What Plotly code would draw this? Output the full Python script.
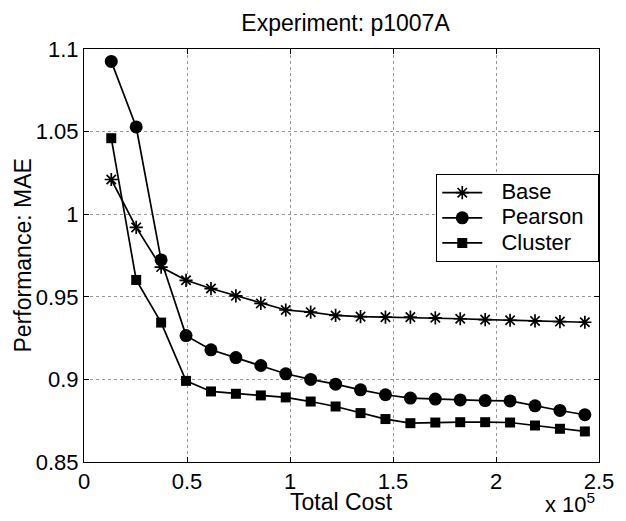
import plotly.graph_objects as go

# Data (x in raw cost units; axis shown in units of 1e5)
total_cost = [13240, 25340, 37440, 49540, 61640, 73740, 85840, 97940, 110040, 122140,
              134240, 146340, 158440, 170540, 182640, 194740, 206840, 218940, 231040, 243140]
base = [1.021, 0.992, 0.968, 0.960, 0.955, 0.9506, 0.946, 0.942, 0.9407, 0.9387,
        0.938, 0.9377, 0.9377, 0.9373, 0.9367, 0.9362, 0.9358, 0.9354, 0.935, 0.9346]
pearson = [1.0925, 1.0528, 0.9723, 0.9265, 0.9179, 0.9132, 0.9084, 0.9034, 0.900, 0.8971,
           0.8937, 0.8907, 0.8887, 0.8881, 0.8876, 0.8872, 0.887, 0.884, 0.8812, 0.8786]
cluster = [1.046, 0.9602, 0.9344, 0.8991, 0.8927, 0.8913, 0.8903, 0.8891, 0.8866, 0.8836,
           0.8796, 0.876, 0.8735, 0.8739, 0.8741, 0.8741, 0.8739, 0.8721, 0.8701, 0.8685]
series_names = ["Base", "Pearson", "Cluster"]

x_tickvals = [0, 50000, 100000, 150000, 200000, 250000]
x_ticktext = ["0", "0.5", "1", "1.5", "2", "2.5"]
y_tickvals = [0.85, 0.9, 0.95, 1.0, 1.05, 1.1]
y_ticktext = ["0.85", "0.9", "0.95", "1", "1.05", "1.1"]

FONT = "Liberation Sans, Arial, sans-serif"
NB = "\u00a0"


def legend_label(name):
    return NB * 3 + "<span style='font-size:22px'>" + name + "</span>" + NB * 2


fig = go.Figure()
fig.add_trace(go.Scatter(x=total_cost, y=base, name=legend_label(series_names[0]),
                         mode="lines+markers",
                         line=dict(color="black", width=1.7),
                         marker=dict(symbol="asterisk-open", size=11, color="black",
                                     line=dict(color="black", width=1.7))))
fig.add_trace(go.Scatter(x=total_cost, y=pearson, name=legend_label(series_names[1]),
                         mode="lines+markers",
                         line=dict(color="black", width=1.7),
                         marker=dict(symbol="circle", size=13, color="black")))
fig.add_trace(go.Scatter(x=total_cost, y=cluster, name=legend_label(series_names[2]),
                         mode="lines+markers",
                         line=dict(color="black", width=1.7),
                         marker=dict(symbol="square", size=10, color="black")))

axis_common = dict(showline=True, linecolor="black", linewidth=1, mirror="ticks",
                   ticks="inside", ticklen=5, tickcolor="black", tickwidth=1,
                   showgrid=True, gridcolor="#999999", gridwidth=1, griddash="dot",
                   zeroline=False, tickfont=dict(family=FONT, size=22, color="black"))

fig.update_layout(
    width=626, height=521,
    margin=dict(l=84, r=19, t=49, b=59),
    paper_bgcolor="white", plot_bgcolor="white",
    font=dict(family=FONT, size=22, color="black"),
    title=dict(text="Experiment: p1007A", x=0.552, xanchor="center", y=0.955, yanchor="middle",
               font=dict(family=FONT, size=23, color="black")),
    xaxis=dict(range=[0, 250000], tickvals=x_tickvals, ticktext=x_ticktext,
               ticklabelstandoff=0, **axis_common),
    yaxis=dict(range=[0.85, 1.1], tickvals=y_tickvals, ticktext=y_ticktext,
               **axis_common),
    legend=dict(x=0.684, y=0.697, xanchor="left", yanchor="top",
                bordercolor="black", borderwidth=1, bgcolor="white", itemwidth=40,
                font=dict(family=FONT, size=17, color="black"), tracegroupgap=0),
    showlegend=True,
)

# Axis titles placed as annotations for precise placement
fig.add_annotation(text="Total Cost", xref="paper", yref="paper",
                   x=0.5, y=-0.098, xanchor="center", yanchor="middle", showarrow=False,
                   font=dict(family=FONT, size=23, color="black"))
fig.add_annotation(text="Performance: MAE", xref="paper", yref="paper",
                   x=-0.1185, y=0.5, xanchor="center", yanchor="middle", showarrow=False,
                   textangle=-90, font=dict(family=FONT, size=23, color="black"))
fig.add_annotation(text="x 10<sup>5</sup>", xref="paper", yref="paper",
                   x=0.891, y=-0.137, xanchor="left", yanchor="bottom", showarrow=False,
                   font=dict(family=FONT, size=22, color="black"))

fig.write_html("out.html")
